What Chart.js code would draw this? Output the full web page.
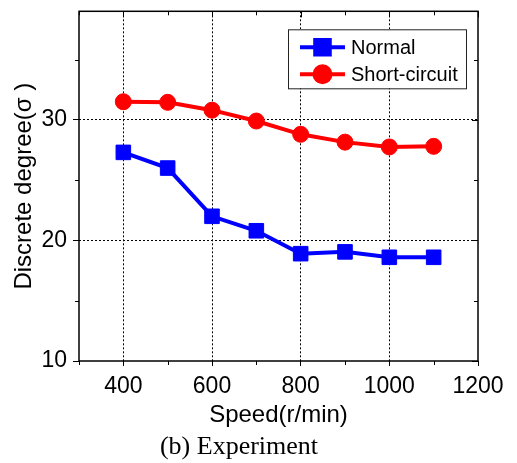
<!DOCTYPE html>
<html>
<head>
<meta charset="utf-8">
<script src="https://cdn.jsdelivr.net/npm/chart.js@4.4.1/dist/chart.umd.min.js"></script>
<style>
  html, body { margin: 0; padding: 0; background: #fff; }
</style>
</head>
<body>
<canvas id="chart" width="517" height="463"></canvas>
<script>
// datos
const speeds = [400, 500, 600, 700, 800, 900, 1000, 1100];
const normal = [27.3, 26.0, 22.0, 20.8, 18.9, 19.05, 18.6, 18.6];
const shortCircuit = [31.5, 31.45, 30.8, 29.9, 28.8, 28.15, 27.75, 27.8];
const xTicks = [400, 600, 800, 1000, 1200];
const xMinor = [300, 500, 700, 900, 1100];
const yTicks = [10, 20, 30];
const yMinor = [15, 25, 35];

const sans = "'Liberation Sans', Arial, sans-serif";

// marco, ticks espejo y ticks menores
const framePlugin = {
    id: 'frame',
    afterDraw(chart) {
        const { ctx, chartArea: a, scales: { x, y } } = chart;
        ctx.save();
        ctx.strokeStyle = '#000';
        ctx.lineWidth = 1.5;
        ctx.strokeRect(a.left, a.top, a.right - a.left, a.bottom - a.top);
        ctx.lineWidth = 1;
        ctx.beginPath();
        xTicks.forEach(v => {
            const px = Math.round(x.getPixelForValue(v)) + 0.5;
            ctx.moveTo(px, a.top); ctx.lineTo(px, a.top + 6);
        });
        xMinor.forEach(v => {
            const px = Math.round(x.getPixelForValue(v)) + 0.5;
            ctx.moveTo(px, a.bottom); ctx.lineTo(px, a.bottom + 4);
            ctx.moveTo(px, a.top); ctx.lineTo(px, a.top + 4);
        });
        yTicks.forEach(v => {
            const py = Math.round(y.getPixelForValue(v)) + 0.5;
            ctx.moveTo(a.right, py); ctx.lineTo(a.right - 6, py);
        });
        yMinor.forEach(v => {
            const py = Math.round(y.getPixelForValue(v)) + 0.5;
            ctx.moveTo(a.left, py); ctx.lineTo(a.left - 4, py);
            ctx.moveTo(a.right, py); ctx.lineTo(a.right - 4, py);
        });
        ctx.stroke();
        ctx.restore();
    }
};

// leyenda dentro del área del gráfico, arriba a la derecha
const insideLegend = {
    id: 'insideLegend',
    afterDatasetsDraw(chart) {
        const { ctx, chartArea: a } = chart;
        const w = 178, h = 59;
        const left = a.right - 12 - w, top = a.top + 18;
        ctx.save();
        ctx.fillStyle = '#fff';
        ctx.fillRect(left, top, w, h);
        ctx.strokeStyle = '#222';
        ctx.lineWidth = 1;
        ctx.strokeRect(left + 0.5, top + 0.5, w, h);
        chart.data.datasets.forEach((ds, i) => {
            const cy = top + 18 + i * 27;
            ctx.strokeStyle = ds.borderColor;
            ctx.lineWidth = ds.borderWidth;
            ctx.beginPath();
            ctx.moveTo(left + 12, cy);
            ctx.lineTo(left + 57, cy);
            ctx.stroke();
            ctx.fillStyle = ds.backgroundColor;
            ctx.strokeStyle = ds.borderColor;
            Chart.helpers.drawPoint(ctx, {
                pointStyle: ds.pointStyle, radius: ds.pointRadius, rotation: 0, borderWidth: 1
            }, left + 34.5, cy);
            ctx.fillStyle = '#000';
            ctx.font = '20px ' + sans;
            ctx.textBaseline = 'middle';
            ctx.textAlign = 'left';
            ctx.fillText(ds.label, left + 63, cy + 1);
        });
        ctx.restore();
    }
};

const gridColor = skip => ctx => (skip.includes(ctx.tick && ctx.tick.value) ? 'rgba(0,0,0,0)' : '#000');

new Chart(document.getElementById('chart').getContext('2d'), {
    type: 'line',
    data: {
        datasets: [
            {
                label: 'Normal',
                data: speeds.map((s, i) => ({ x: s, y: normal[i] })),
                borderColor: '#0000ff',
                backgroundColor: '#0000ff',
                borderWidth: 4,
                pointStyle: 'rect',
                pointRadius: 10.3,
                pointBorderWidth: 1
            },
            {
                label: 'Short-circuit',
                data: speeds.map((s, i) => ({ x: s, y: shortCircuit[i] })),
                borderColor: '#ff0000',
                backgroundColor: '#ff0000',
                borderWidth: 4,
                pointStyle: 'circle',
                pointRadius: 8,
                pointBorderWidth: 1
            }
        ]
    },
    options: {
        responsive: false,
        animation: false,
        devicePixelRatio: 1,
        layout: { padding: { left: 0, right: 39, top: 6, bottom: 0 } },
        scales: {
            x: {
                type: 'linear',
                min: 300,
                max: 1200,
                afterBuildTicks: s => { s.ticks = xTicks.map(v => ({ value: v })); },
                afterFit: s => { s.height = 68.8; s.paddingLeft = 0; s.paddingRight = 0; },
                grid: { color: gridColor([1200]), tickColor: '#000', tickLength: 5, lineWidth: 1 },
                border: { display: false, dash: [2, 2] },
                ticks: {
                    color: '#000', font: { family: sans, size: 23 }, padding: 7, autoSkip: false, maxRotation: 0,
                    callback: v => String(v)
                },
                title: { display: true, text: 'Speed(r/min)', color: '#000', font: { family: sans, size: 24 }, padding: { top: 0, bottom: 0 } }
            },
            y: {
                min: 10,
                max: 39,
                afterBuildTicks: s => { s.ticks = yTicks.map(v => ({ value: v })); },
                afterFit: s => { s.width = 79; s.paddingTop = 0; s.paddingBottom = 0; },
                grid: { color: gridColor([10]), tickColor: '#000', tickLength: 6, lineWidth: 1 },
                border: { display: false, dash: [2, 2] },
                ticks: { color: '#000', font: { family: sans, size: 23 }, padding: 6, callback: v => String(v) },
                title: { display: true, text: 'Discrete degree(σ )', color: '#000', font: { family: sans, size: 24 }, padding: { top: 10, bottom: 0 } }
            }
        },
        plugins: {
            legend: { display: false },
            tooltip: { enabled: false },
            title: {
                display: true,
                position: 'bottom',
                text: '(b) Experiment',
                color: '#000',
                font: { family: "'Liberation Serif', 'Times New Roman', serif", size: 26, weight: 'normal', lineHeight: 1.2 },
                padding: { top: 2, bottom: 0 }
            }
        }
    },
    plugins: [framePlugin, insideLegend]
});
</script>
</body>
</html>
